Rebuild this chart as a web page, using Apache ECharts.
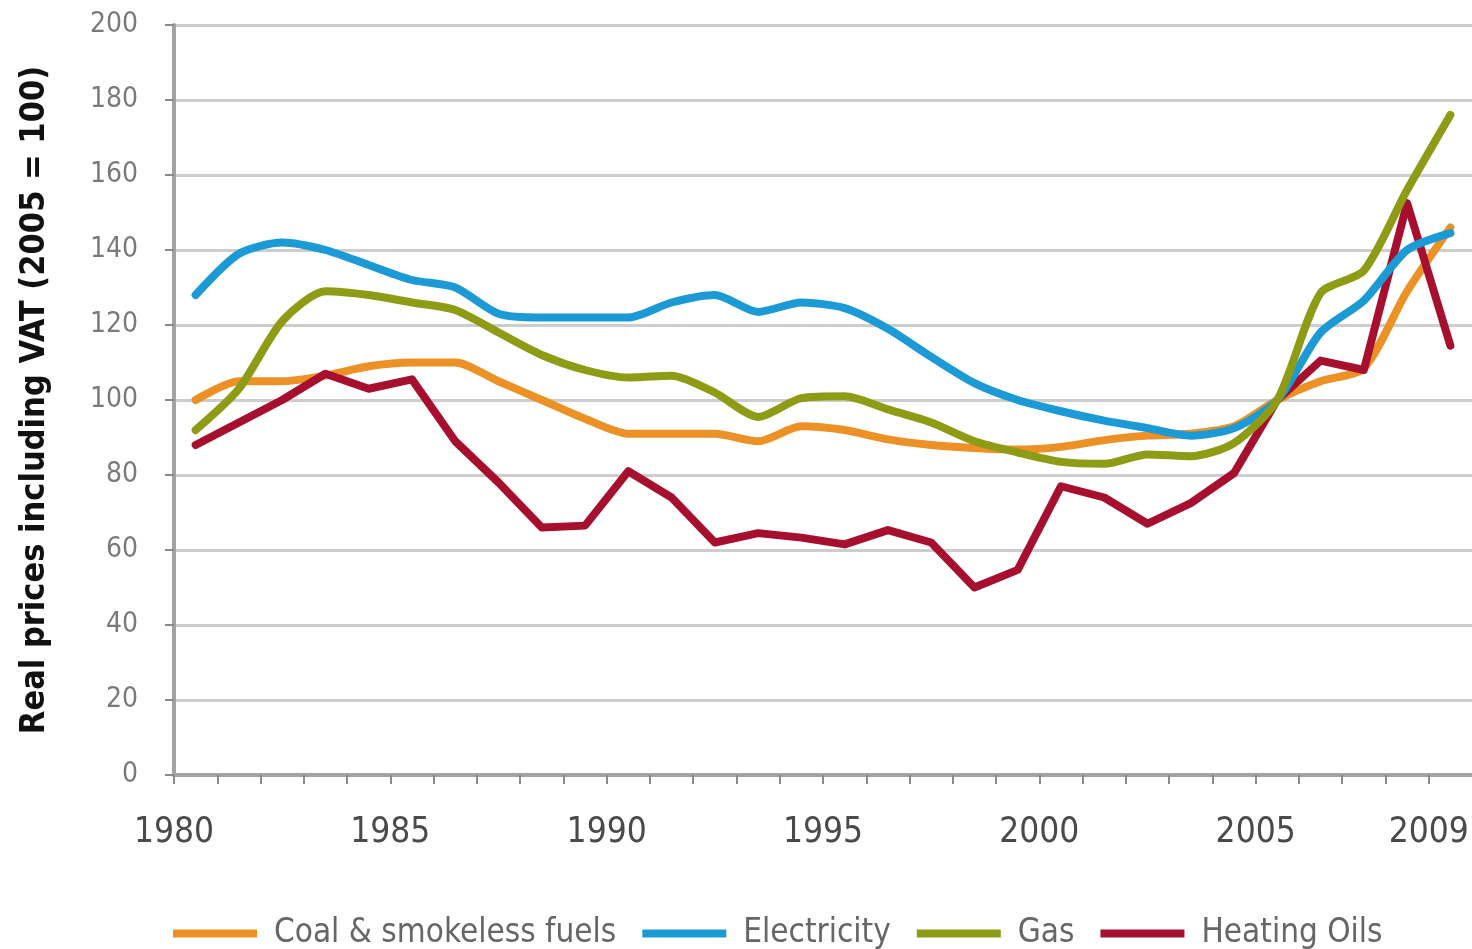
<!DOCTYPE html>
<html>
<head>
<meta charset="utf-8">
<script src="https://cdn.jsdelivr.net/npm/echarts@6/dist/echarts.min.js"></script>
<style>
html,body{margin:0;padding:0;background:#fff;}
#c{width:1472px;height:949px;}
</style>
</head>
<body>
<div id="c"></div>
<script>
var years = [1980,1981,1982,1983,1984,1985,1986,1987,1988,1989,1990,1991,1992,1993,1994,1995,1996,1997,1998,1999,2000,2001,2002,2003,2004,2005,2006,2007,2008,2009];
var coal = [100,105,105,106.5,109,110,110,105,100,95,91,91,91,89,93,92,89.5,88,87.2,86.8,87.5,89.3,90.5,91,93,100,105,108.5,129,146];
var electricity = [128,139,142,140,136,132,130,123,122,122,122,126,128,123.5,126,124.5,119,111.5,104.5,100,97,94.5,92.5,90.5,92.5,100,118,126.5,140,144.5];
var gas = [92,103,121,129,128,126,124,118,112,108,106,106.5,102,95.5,100.5,101,97.5,94,89,86,83.5,83,85.5,85,88.5,100,128.5,134.5,156,176];
var heatingOils = [88,94,100,107,103,105.5,89,78,66,66.5,81,74,62,64.5,63.3,61.5,65.3,62,50,54.7,77,74,67,72.5,80.5,100,110.5,108,152.5,114.5];
var seriesNames = ['Coal & smokeless fuels','Electricity','Gas','Heating Oils'];
var xLabelYears = [1980,1985,1990,1995,2000,2005,2009];
var yTicks = [0,20,40,60,80,100,120,140,160,180,200];

var colors = ['#ec9126','#1c9ad6','#8e9b15','#a6102e'];
var condensed = '"DejaVu Sans Condensed","Liberation Sans Narrow",sans-serif';

function pts(vals){ return years.map(function(y,i){ return [y+0.5, vals[i]]; }); }

var chart = echarts.init(document.getElementById('c'), null, {renderer:'canvas'});
var dataSets = [coal, electricity, gas, heatingOils];
var series = dataSets.map(function(d,i){
  return {
    name: seriesNames[i],
    type: 'line',
    data: pts(d),
    symbol: 'none',
    smooth: i === 3 ? false : 0.25,
    lineStyle: {width: 8, color: colors[i], cap: 'round', join: 'round'},
    itemStyle: {color: colors[i]},
    z: 3 + (i === 3 ? 0 : i)
  };
});

chart.setOption({
  animation: false,
  color: colors,
  grid: {left: 174, right: 0, top: 25, bottom: 174, containLabel: false},
  xAxis: {
    type: 'value',
    min: 1980, max: 2010, interval: 1,
    axisLine: {show: true, onZero: false, lineStyle: {color: '#a3a3a3', width: 4}},
    axisTick: {show: true, length: 9, lineStyle: {color: '#8a8a8a', width: 2}},
    splitLine: {show: false},
    axisLabel: {
      margin: 40,
      color: '#4a4a4a',
      fontSize: 35,
      fontFamily: condensed,
      showMaxLabel: false,
      formatter: function(v){ return xLabelYears.indexOf(v) >= 0 ? String(v) : ''; }
    }
  },
  yAxis: {
    type: 'value',
    min: yTicks[0], max: yTicks[yTicks.length-1], interval: 20,
    name: 'Real prices including VAT (2005 = 100)',
    nameLocation: 'middle',
    nameGap: 122,
    nameRotate: 90,
    nameTextStyle: {fontSize: 34, fontWeight: 'bold', color: '#111', fontFamily: condensed},
    axisLine: {show: true, lineStyle: {color: '#a3a3a3', width: 4}},
    axisTick: {show: true, length: 9, lineStyle: {color: '#8a8a8a', width: 2}},
    splitLine: {show: true, lineStyle: {color: '#cdcdcd', width: 3}},
    axisLabel: {margin: 36, color: '#7a7a7a', fontSize: 28, fontFamily: condensed}
  },
  legend: {
    top: 912,
    left: 168,
    icon: 'rect',
    itemWidth: 84,
    itemHeight: 8,
    itemGap: 26,
    textStyle: {fontSize: 33, color: '#666', fontFamily: condensed, padding: [0,0,0,12]},
    data: seriesNames
  },
  series: series
});
</script>
</body>
</html>
